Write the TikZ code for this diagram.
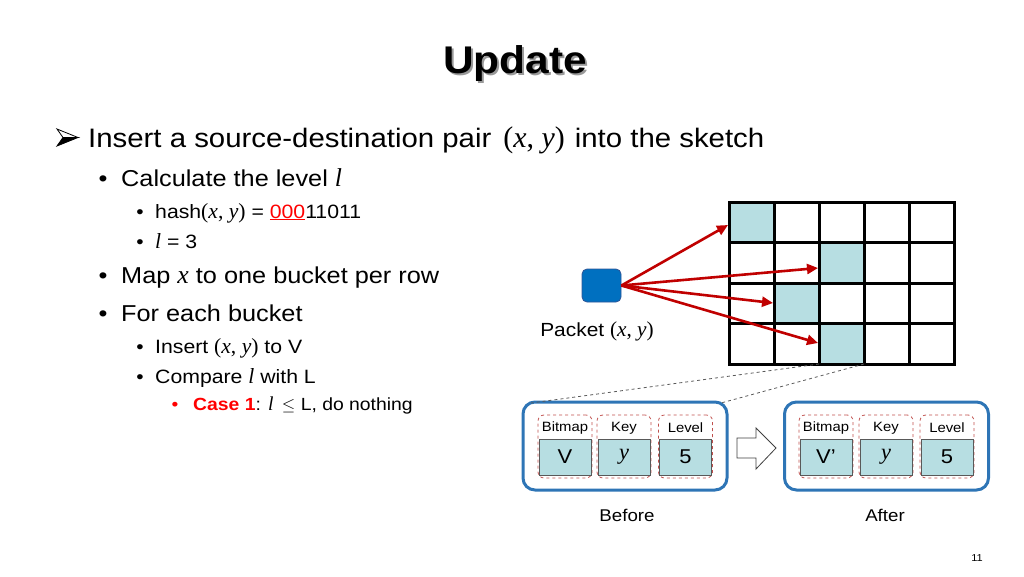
\documentclass[tikz,border=0pt]{standalone}
\usepackage{fontspec}
\setmainfont[FakeStretch=1.1]{Liberation Sans}
\newfontfamily\cmf[Scale=1.12]{Liberation Serif}
\usetikzlibrary{arrows.meta,calc}
\definecolor{tealc}{HTML}{B7DEE2}
\definecolor{boxblue}{HTML}{2E75B6}
\definecolor{pktblue}{HTML}{0070C0}
\definecolor{pktedge}{HTML}{2F5597}
\definecolor{arrred}{HTML}{C00000}
\definecolor{dashred}{HTML}{C0504D}
\definecolor{txtred}{HTML}{FF0000}
\newcommand\fsz[1]{\fontsize{#1}{#1}\selectfont}
\newcommand\mv[1]{{\cmf\itshape #1}}
\newcommand\pxy{{\cmf(\textit{x}, \textit{y})}}
\begin{document}
\begin{tikzpicture}[x=1pt,y=-1pt,
  txt/.style={inner sep=0pt, anchor=base west},
  bul/.style={inner sep=0pt, anchor=base},
  cell/.style={draw, line width=3pt, minimum width=45pt, minimum height=40.5pt, inner sep=0pt, outer sep=0pt, anchor=north west, fill=white},
  hcell/.style={cell, fill=tealc},
  packet/.style={draw=pktedge, fill=pktblue, line width=0.8pt, rounded corners=5pt, minimum width=39pt, minimum height=33pt, inner sep=0pt},
  redarrow/.style={draw=arrred, line width=2.6pt, -{Triangle[length=11pt,width=10pt]}},
  bigbox/.style={draw=boxblue, line width=3pt, rounded corners=12pt, minimum width=204pt, minimum height=88pt, inner sep=0pt},
  field/.style={draw=dashred, dashed, line width=0.8pt, rounded corners=6pt, minimum width=54pt, minimum height=63pt, inner sep=0pt},
  valbox/.style={draw=black!65, fill=tealc, line width=0.6pt, minimum width=52pt, minimum height=36pt, inner sep=0pt, font=\fsz{20}},
  flabel/.style={inner sep=0pt, font=\fsz{13.5}},
  dashline/.style={draw=black!65, dashed, line width=0.8pt},
  hollow/.style={draw=black!75, fill=white, line width=0.8pt},
  glyphtop/.style={draw=black, fill=white, line width=0.8pt, line join=miter},
  glyphbot/.style={draw=black, fill=black, line width=0.8pt, line join=miter}
]
\useasboundingbox (0,0) rectangle (1024,576);

% title
\node[txt, anchor=base, font=\fsz{38.6}\bfseries, text=black!40] (titleshadow) at (517,75) {Update};
\node[txt, anchor=base, font=\fsz{38.6}\bfseries] (title) at (515,73) {Update};

% first-level arrow bullet
\draw[glyphtop] (57,129) -- (78,137.5) -- (63,137.5) -- cycle;
\draw[glyphbot] (63,137.5) -- (78,137.5) -- (57,146) -- cycle;

\node[txt, font=\fsz{26.7}] (l1) at (88,147) {Insert a source-destination pair\hspace{12pt}\pxy\hspace{10pt}into the sketch};

\node[bul, font=\fsz{23}] (b1) at (103,186) {•};
\node[txt, font=\fsz{23}] (l2) at (121,186) {Calculate the level \mv{l}};
\node[bul, font=\fsz{19}] (b2) at (140,218) {•};
\node[txt, font=\fsz{19.3}] (l3) at (155,218) {hash\pxy\ = \textcolor{txtred}{\underline{000}}11011};
\node[bul, font=\fsz{19}] (b3) at (140,248) {•};
\node[txt, font=\fsz{19.3}] (l4) at (155,248) {\mv{l} = 3};
\node[bul, font=\fsz{23}] (b4) at (103,283) {•};
\node[txt, font=\fsz{23}] (l5) at (121,283) {Map \mv{x} to one bucket per row};
\node[bul, font=\fsz{23}] (b5) at (103,321) {•};
\node[txt, font=\fsz{23}] (l6) at (121,321) {For each bucket};
\node[bul, font=\fsz{19}] (b6) at (140,353) {•};
\node[txt, font=\fsz{19.3}] (l7) at (155,353) {Insert \pxy\ to V};
\node[bul, font=\fsz{19}] (b7) at (140,383) {•};
\node[txt, font=\fsz{19.3}] (l8) at (155,383) {Compare \mv{l} with L};
\node[bul, font=\fsz{17.6}, text=txtred] (b8) at (175,410) {•};
\node[txt, font=\fsz{17.6}] (l9) at (193,410) {\textcolor{txtred}{\bfseries Case 1}: \mv{l} \,$\leq$ L, do nothing};

% grid
\foreach \r in {0,...,3} {
  \foreach \c in {0,...,4} {
    \node[cell] (c-\r-\c) at ({729+45*\c},{202+40.5*\r}) {};
  }
}
\node[hcell] (h-0-0) at (729,202) {};
\node[hcell] (h-1-2) at (819,242.5) {};
\node[hcell] (h-2-1) at (774,283) {};
\node[hcell] (h-3-2) at (819,323.5) {};

% packet
\node[packet] (pkt) at (601.5,285.5) {};
\node[inner sep=0pt, font=\fsz{19}] (pktlbl) at (597,331) {Packet \pxy};

\coordinate (t1) at (728,225);
\coordinate (t2) at (818,268);
\coordinate (t3) at (773,303);
\coordinate (t4) at (818,343);
\foreach \t in {t1,t2,t3,t4} {
  \draw[redarrow] (pkt.east) -- (\t);
}

% before / after
\node[bigbox] (before) at (625,446) {};
\node[bigbox] (after) at (886.5,446) {};

\coordinate (bl) at (531,403);
\coordinate (br) at (721,403);
\draw[dashline] (h-3-2.south west) -- (bl);
\draw[dashline] (h-3-2.south east) -- (br);

\foreach \nm/\cx/\lab/\val in {bbm/565/Bitmap/V, bky/624/Key/\mv{y}, blv/685.5/Level/5,
                              abm/826/Bitmap/V’, aky/886/Key/\mv{y}, alv/947/Level/5} {
  \node[field] (f-\nm) at (\cx,446.5) {};
  \node[valbox] (v-\nm) at (\cx,457) {\val};
  \node[flabel] (l-\nm) at (\cx,428) {\lab};
}

\draw[hollow] (737,438) -- (756,438) -- (756,428) -- (776,448) -- (756,469) -- (756,458) -- (737,458) -- cycle;

\node[inner sep=0pt, font=\fsz{17}] (beforelbl) at (627,515) {Before};
\node[inner sep=0pt, font=\fsz{17}] (afterlbl) at (885,515) {After};
\node[inner sep=0pt, font=\fsz{10}] (pg) at (977,558) {11};
\end{tikzpicture}
\end{document}
